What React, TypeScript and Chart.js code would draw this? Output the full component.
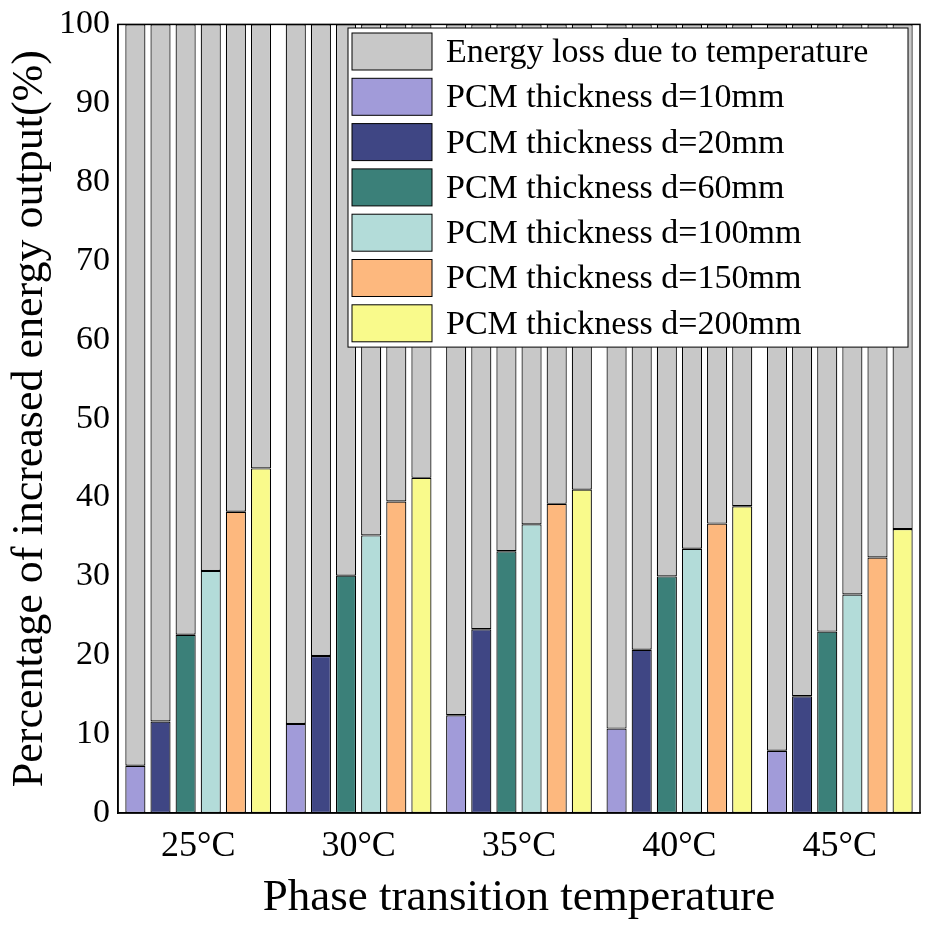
import React, { useEffect, useRef } from "react";
import { Chart, registerables } from "chart.js";
Chart.register(...registerables);

const categories = ["25°C", "30°C", "35°C", "40°C", "45°C"];
const seriesNames = ["PCM thickness d=10mm", "PCM thickness d=20mm", "PCM thickness d=60mm", "PCM thickness d=100mm", "PCM thickness d=150mm", "PCM thickness d=200mm"];
const d10 = [6.0, 11.3, 12.4, 10.7, 7.9];
const d20 = [11.6, 19.9, 23.3, 20.7, 14.8];
const d60 = [22.6, 30.1, 33.2, 30.0, 23.0];
const d100 = [30.7, 35.2, 36.6, 33.5, 27.7];
const d150 = [38.2, 39.5, 39.2, 36.7, 32.4];
const d200 = [43.7, 42.5, 41.0, 38.9, 36.0];
const lossLabel = "Energy loss due to temperature";
const colors = ["#a19bd9", "#3f4684", "#3b8079", "#b3dcd9", "#fdb87e", "#f9fa8b"];
const grey = "#c8c8c8";

const FONT = "'Liberation Serif', 'Times New Roman', serif";

const legendPlugin = {
  id: "boxLegend",
  afterDraw(chart: any) {
    const ctx = chart.ctx;
    const a = chart.chartArea;
    ctx.save();
    ctx.strokeStyle = "#000"; ctx.lineWidth = 1.5;
    ctx.strokeRect(a.left, a.top, a.right - a.left, a.bottom - a.top);
    const items = [{ t: lossLabel, c: grey }, ...seriesNames.map((t, i) => ({ t, c: colors[i] }))];
    const x0 = 348, y0 = 28;
    const w = 560, rowH = 45.3, h = items.length * rowH + 2;
    ctx.fillStyle = "#fff";
    ctx.fillRect(x0, y0, w, h);
    ctx.lineWidth = 1;
    ctx.strokeRect(x0, y0, w, h);
    ctx.font = `34px ${FONT}`;
    ctx.textBaseline = "middle";
    items.forEach((it, i) => {
      const y = y0 + 5 + i * rowH;
      ctx.fillStyle = it.c;
      ctx.fillRect(x0 + 4, y, 80, 37);
      ctx.strokeRect(x0 + 4, y, 80, 37);
      ctx.fillStyle = "#000";
      ctx.fillText(it.t, x0 + 98, y + 20);
    });
    ctx.restore();
  },
};

export default function App() {
  const ref = useRef<HTMLCanvasElement>(null);
  useEffect(() => {
    document.body.style.margin = "0";
    const all = [d10, d20, d60, d100, d150, d200];
    const datasets: any[] = [];
    all.forEach((arr, i) => {
      datasets.push({ label: seriesNames[i], data: arr, backgroundColor: colors[i], borderColor: "#000", borderWidth: 1.2, stack: "s" + i, borderSkipped: false });
      datasets.push({ label: lossLabel, data: arr.map((v) => 100 - v), backgroundColor: grey, borderColor: "#000", borderWidth: 1.2, stack: "s" + i, borderSkipped: false });
    });
    const chart = new Chart(ref.current!, {
      type: "bar",
      data: { labels: categories, datasets },
      plugins: [legendPlugin],
      options: {
        animation: false,
        responsive: false,
        layout: { padding: { top: 18, right: 8, left: 0, bottom: 0 } },
        plugins: { legend: { display: false }, tooltip: { enabled: false } },
        datasets: { bar: { categoryPercentage: 0.94, barPercentage: 0.8 } },
        scales: {
          x: {
            stacked: true,
            afterFit: (s: any) => { s.height = 116; },
            grid: { display: false, drawTicks: false },
            border: { color: "#000", width: 1.5 },
            ticks: { color: "#000", font: { family: FONT, size: 36 }, padding: 12 },
            title: { display: true, text: "Phase transition temperature", color: "#000", font: { family: FONT, size: 45 }, padding: { top: 0 } },
          },
          y: {
            stacked: true,
            min: 0, max: 100,
            afterFit: (s: any) => { s.width = 118; },
            grid: { display: false, drawTicks: true, tickLength: 4 },
            border: { color: "#000", width: 1.5 },
            ticks: { stepSize: 10, color: "#000", font: { family: FONT, size: 34 }, padding: 4 },
            title: { display: true, text: "Percentage of increased energy output(%)", color: "#000", font: { family: FONT, size: 44 }, padding: { bottom: 0 } },
          },
        },
      },
    });
    return () => chart.destroy();
  }, []);
  return <canvas ref={ref} width={928} height={929} style={{ display: "block" }} />;
}
